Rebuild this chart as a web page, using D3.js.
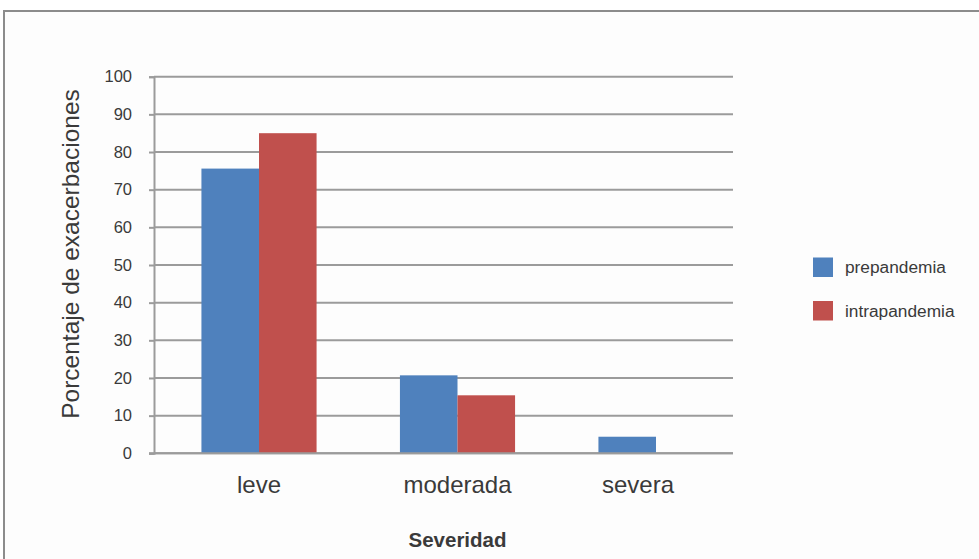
<!DOCTYPE html>
<html>
<head>
<meta charset="utf-8">
<script src="https://cdn.jsdelivr.net/npm/d3@7"></script>
<style>
  html, body { margin: 0; padding: 0; background: #ffffff; }
  svg { display: block; font-family: "Liberation Sans", Arial, Helvetica, sans-serif; }
</style>
</head>
<body>
<svg id="chart" width="979" height="559"></svg>
<script>
// Severity categories and the share of exacerbations (%) in each period
const categories = ["leve", "moderada", "severa"];
const seriesNames = ["prepandemia", "intrapandemia"];
const prepandemia = [75.6, 20.7, 4.4];
const intrapandemia = [85.0, 15.4, 0];
const yTicks = [0, 10, 20, 30, 40, 50, 60, 70, 80, 90, 100];
const colors = ["#4f81bd", "#c0504d"];

const svg = d3.select("#chart");
const W = 979, H = 559;

// outer frame
svg.append("rect").attr("x", 0).attr("y", 0).attr("width", W).attr("height", H).attr("fill", "#ffffff");
svg.append("rect")
  .attr("x", 4).attr("y", 11).attr("width", W + 10).attr("height", H + 10)
  .attr("fill", "#fdfdfd").attr("stroke", "#8c8c8c").attr("stroke-width", 2);

const axisLeft = 154, axisRight = 733;
const y = d3.scaleLinear().domain([0, 100]).range([453.3, 76.7]);

const x = d3.scaleBand().domain(categories).range([159.75, 755.25])
  .paddingInner(0.42).paddingOuter(0.21);
const xs = d3.scaleBand().domain(seriesNames).range([0, x.bandwidth()]);

const textColor = "#3a3a3a";
const gridColor = "#9b9b9b";

// horizontal gridlines
svg.append("g").selectAll("line").data(yTicks).join("line")
  .attr("x1", axisLeft).attr("x2", axisRight)
  .attr("y1", d => y(d)).attr("y2", d => y(d))
  .attr("stroke", gridColor).attr("stroke-width", 2);

// y axis
const yAxis = svg.append("g").attr("transform", `translate(${axisLeft},0)`)
  .call(d3.axisLeft(y).tickValues(yTicks).tickSize(5).tickPadding(17));
yAxis.select(".domain").attr("stroke", gridColor).attr("stroke-width", 2);
yAxis.selectAll(".tick line").attr("stroke", gridColor).attr("stroke-width", 2);
yAxis.selectAll(".tick text").attr("fill", textColor).attr("font-size", 16.5)
  .attr("font-family", "Liberation Sans, Arial, sans-serif");

// bars
const rows = categories.map((c, i) => ({ cat: c, values: [prepandemia[i], intrapandemia[i]] }));
const groups = svg.append("g").selectAll("g").data(rows).join("g")
  .attr("transform", d => `translate(${x(d.cat)},0)`);
groups.selectAll("rect").data(d => d.values.map((v, j) => ({ name: seriesNames[j], v, j })))
  .join("rect")
  .attr("x", d => xs(d.name))
  .attr("width", xs.bandwidth())
  .attr("y", d => y(d.v))
  .attr("height", d => y(0) - y(d.v))
  .attr("fill", d => colors[d.j]);

// baseline drawn over bars
svg.append("line").attr("x1", axisLeft - 5).attr("x2", axisRight)
  .attr("y1", y(0)).attr("y2", y(0)).attr("stroke", gridColor).attr("stroke-width", 2);

// x category labels
const xAxis = svg.append("g").attr("transform", `translate(0,${y(0)})`)
  .call(d3.axisBottom(x).tickSize(0).tickPadding(23));
xAxis.select(".domain").remove();
xAxis.selectAll(".tick text").attr("fill", textColor).attr("font-size", 24)
  .attr("font-family", "Liberation Sans, Arial, sans-serif")
  .attr("dx", d => d === "severa" ? -18 : 0);

// axis titles
svg.append("text")
  .attr("transform", "translate(79,254) rotate(-90)")
  .attr("text-anchor", "middle").attr("fill", textColor).attr("font-size", 24.5)
  .text("Porcentaje de exacerbaciones");

svg.append("text")
  .attr("x", 457.5).attr("y", 547)
  .attr("text-anchor", "middle").attr("fill", textColor)
  .attr("font-size", 20.5).attr("font-weight", "bold")
  .text("Severidad");

// legend
const legend = svg.append("g").selectAll("g").data(seriesNames).join("g")
  .attr("transform", (d, i) => `translate(813,${257.5 + i * 43.5})`);
legend.append("rect").attr("width", 20).attr("height", 19.5).attr("fill", (d, i) => colors[i]);
legend.append("text").attr("x", 32).attr("y", 15.5)
  .attr("fill", textColor).attr("font-size", 17.3).text(d => d);
</script>
</body>
</html>
